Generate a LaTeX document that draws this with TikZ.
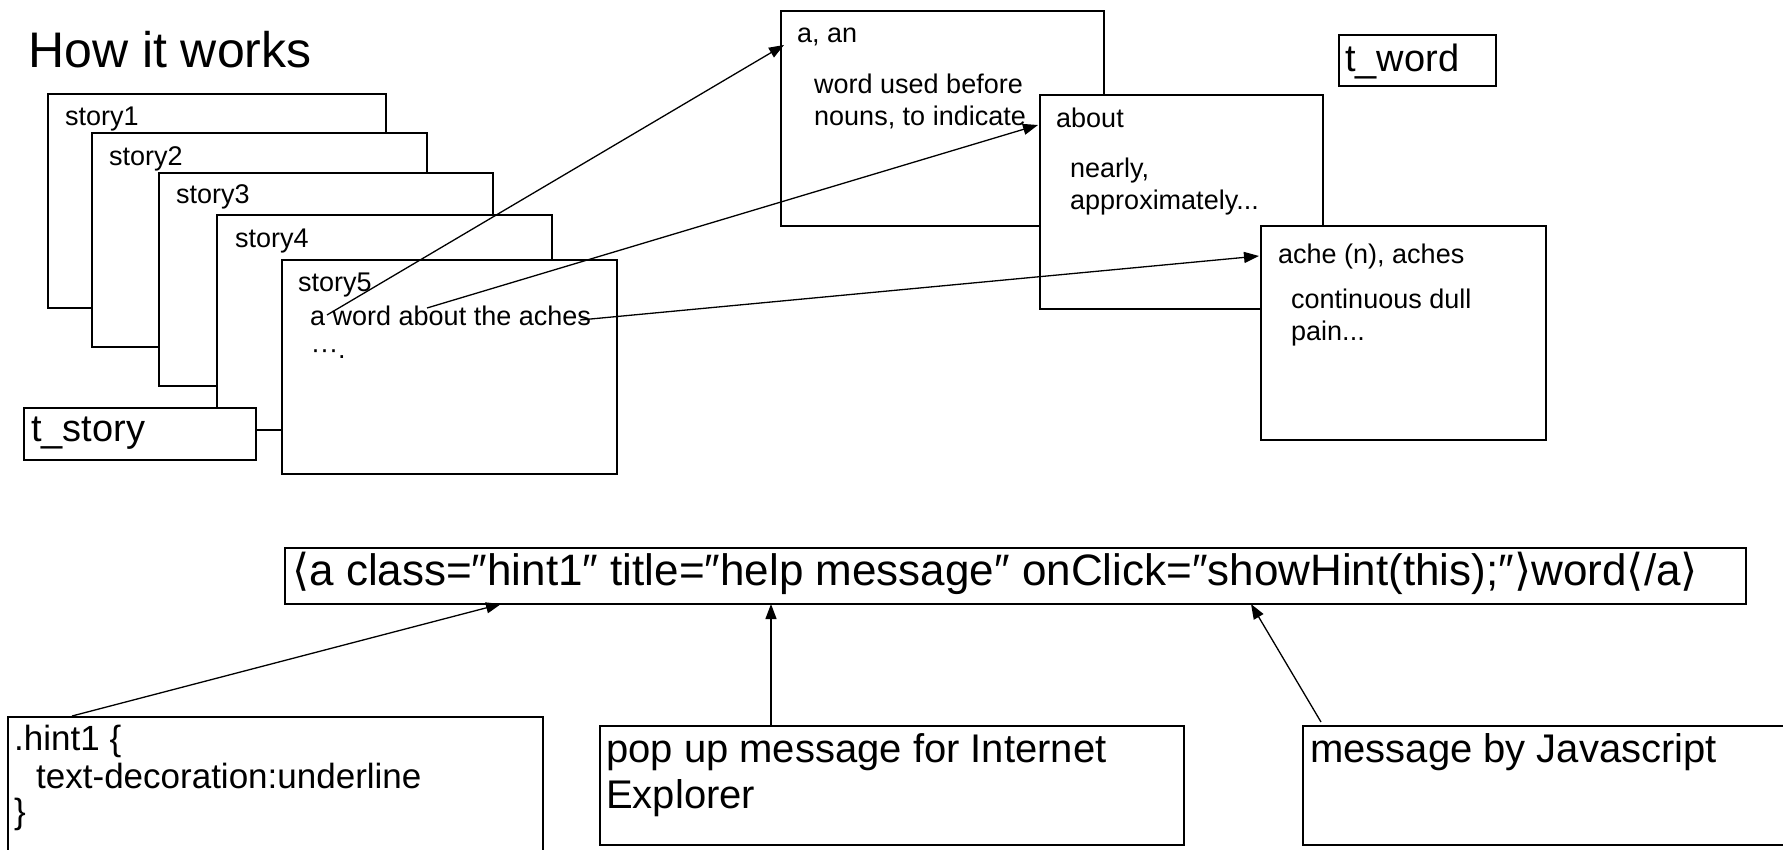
\documentclass[tikz,border=0pt]{standalone}
\usepackage{fontspec}
\setmainfont{Liberation Sans}
\newfontfamily\djv{DejaVu Sans}
\newcommand{\lab}{{\djv ⟨}}
\newcommand{\rab}{{\djv ⟩}}
\usetikzlibrary{arrows.meta}
\begin{document}
\begin{tikzpicture}[x=1pt,y=-1pt,
  box/.style={draw, line width=1.6pt, fill=white, inner sep=0pt, anchor=north west},
  txt/.style={inner sep=0pt, anchor=base west},
  arr/.style={line width=1.3pt, -{Triangle[length=15pt,width=11pt]}},
  small/.style={font=\fontsize{27}{32}\selectfont},
  mid/.style={font=\fontsize{38}{44}\selectfont},
  big/.style={font=\fontsize{40}{46}\selectfont},
  code/.style={font=\fontsize{44}{50}\selectfont},
  css/.style={font=\fontsize{35}{40}\selectfont}]
\useasboundingbox (0,0) rectangle (1783,849);
\clip (0,0) rectangle (1783,849);
% title
\node[txt, font=\fontsize{50}{60}\selectfont] (title) at (28,67) {How it works};
% stories
\node[box, minimum width=338pt, minimum height=214pt] (s1) at (47,93) {};
\node[txt, small] (s1l) at (65,125) {story1};
\node[box, minimum width=335pt, minimum height=214pt] (s2) at (91,132) {};
\node[txt, small] (s2l) at (109,165) {story2};
\node[box, minimum width=334pt, minimum height=213pt] (s3) at (158,172) {};
\node[txt, small] (s3l) at (176,203) {story3};
\node[box, minimum width=335pt, minimum height=215pt] (s4) at (216,214) {};
\node[txt, small] (s4l) at (235,247) {story4};
\node[box, minimum width=232pt, minimum height=52pt] (tstory) at (23,407) {};
\node[txt, mid] (tstoryl) at (31,441) {t\_story};
\node[box, minimum width=335pt, minimum height=214pt] (s5) at (281,259) {};
\node[txt, small] (s5l) at (298,291) {story5};
\node[txt, small] (s5t) at (310,325) {a word about the aches};
\node[txt, small] (s5d) at (311,358) {···.};
% dictionary
\node[box, minimum width=323pt, minimum height=215pt] (aan) at (780,10) {};
\node[txt, small] (aanl) at (797,42) {a, an};
\node[txt, small] (aan1) at (814,93) {word used before};
\node[txt, small] (aan2) at (814,125) {nouns, to indicate};
\node[box, minimum width=283pt, minimum height=214pt] (about) at (1039,94) {};
\node[txt, small] (aboutl) at (1056,127) {about};
\node[txt, small] (about1) at (1070,177) {nearly,};
\node[txt, small] (about2) at (1070,209) {approximately...};
\node[box, minimum width=285pt, minimum height=214pt] (ache) at (1260,225) {};
\node[txt, small] (achel) at (1278,263) {ache (n), aches};
\node[txt, small] (ache1) at (1291,308) {continuous dull};
\node[txt, small] (ache2) at (1291,340) {pain...};
\node[box, minimum width=157pt, minimum height=51pt] (tword) at (1338,34) {};
\node[txt, mid] (twordl) at (1345,71) {t\_word};
% word arrows
\coordinate (w1) at (327,315);
\coordinate (w2) at (427,308);
\coordinate (w3) at (580,320);
\coordinate (e1) at (784,45);
\coordinate (e2) at (1038,125);
\coordinate (e3) at (1259,256);
\draw[arr] (w1) -- (e1);
\draw[arr] (w2) -- (e2);
\draw[arr] (w3) -- (e3);
% bottom
\node[box, minimum width=1461pt, minimum height=56pt] (codebox) at (284,547) {};
\node[txt, code] (codel) at (292,585) {\lab a class=″hint1″ title=″help message″ onClick=″showHint(this);″\rab word\lab/a\rab};
\node[box, minimum width=535pt, minimum height=150pt] (hint) at (7,716) {};
\node[txt, css] (hint1) at (14,750) {.hint1 \{};
\node[txt, css] (hint2) at (36,788) {text-decoration:underline};
\node[txt, css] (hint3) at (14,823) {\}};
\node[box, minimum width=584pt, minimum height=119pt] (popup) at (599,725) {};
\node[txt, big] (popup1) at (606,762) {pop up message for Internet};
\node[txt, big] (popup2) at (606,808) {Explorer};
\node[box, minimum width=495pt, minimum height=119pt] (js) at (1302,725) {};
\node[txt, big] (jsl) at (1310,762) {message by Javascript};
\coordinate (b1s) at (72,716);
\coordinate (b1e) at (501,604);
\coordinate (b2s) at (771,725);
\coordinate (b2e) at (771,604);
\coordinate (b3s) at (1321,722);
\coordinate (b3e) at (1251,604);
\draw[arr] (b1s) -- (b1e);
\draw[arr] (b2s) -- (b2e);
\draw[arr] (b3s) -- (b3e);
\end{tikzpicture}
\end{document}
